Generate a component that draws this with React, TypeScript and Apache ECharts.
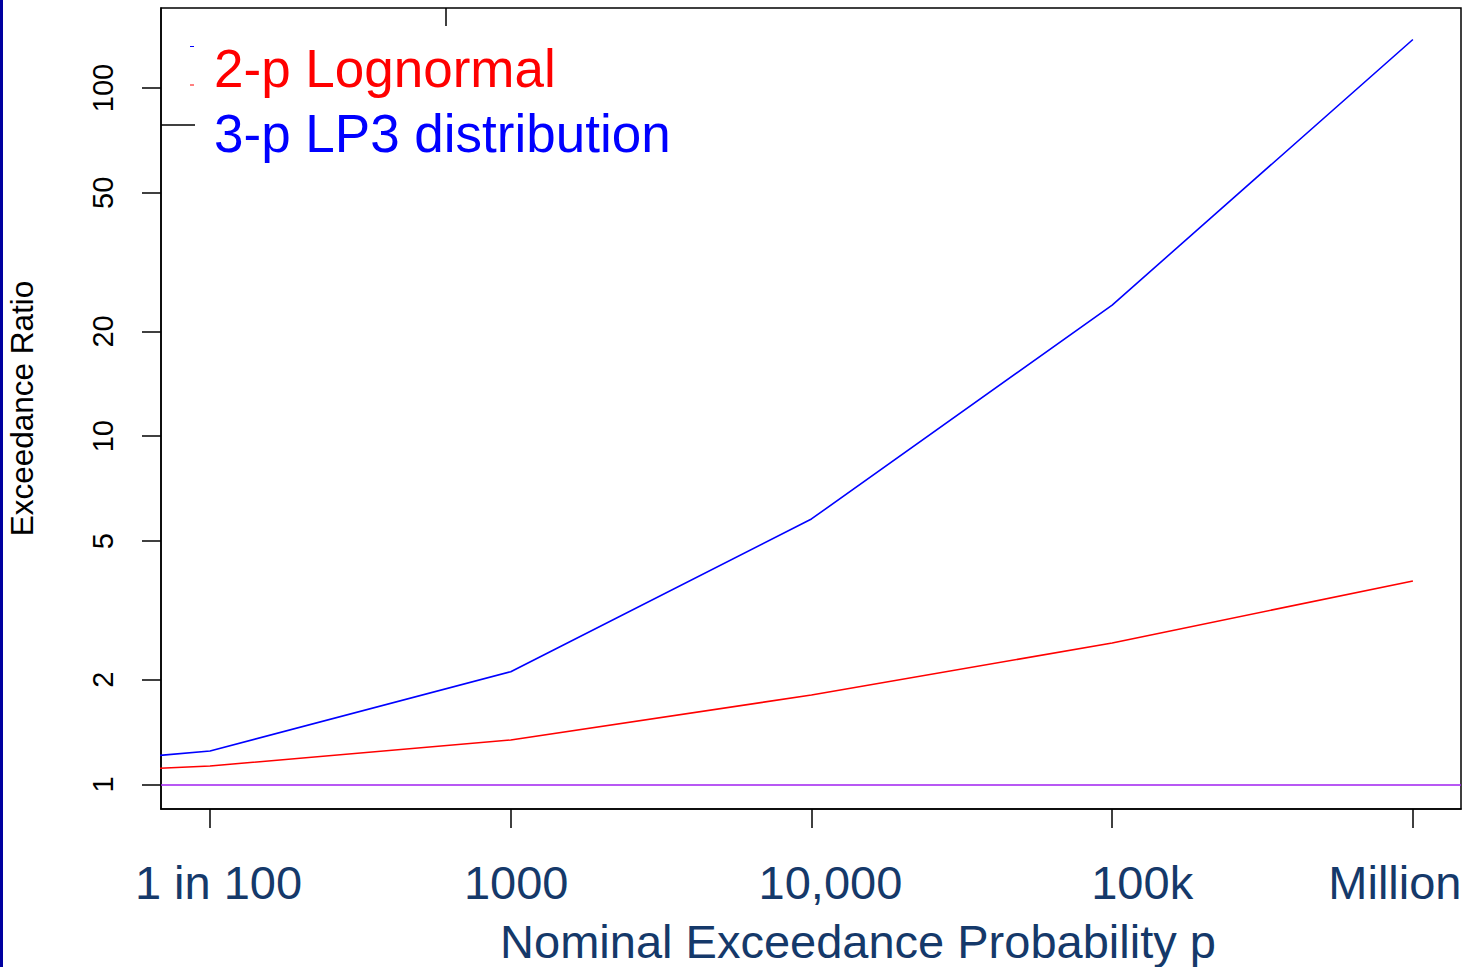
import React, { useEffect, useRef } from 'react';
import * as echarts from 'echarts';

// Return periods (1 in N) and exceedance ratios
const returnPeriods = [50, 100, 1000, 10000, 100000, 1000000];
const lognormalRatio = [1.099, 1.13, 1.342, 1.807, 2.549, 3.84];
const lp3Ratio = [1.184, 1.248, 2.108, 5.787, 23.8, 137.8];
const xTickValues = [100, 1000, 10000, 100000, 1000000];
const xTickLabels = ['1 in 100', '1000', '10,000', '100k', 'Million'];
const yTickValues = [1, 2, 5, 10, 20, 50, 100];
const seriesNames = ['2-p Lognormal', '3-p LP3 distribution'];
const referenceRatio = 1;

const NAVY = '#15396A';
const FONT = '"Liberation Sans", Arial, sans-serif';

export default function App() {
  const ref = useRef<HTMLDivElement>(null);

  useEffect(() => {
    const chart = echarts.init(ref.current!, null, { renderer: 'svg' });
    const lg = Math.log10;
    const xLabelShift = [8.5, 5.5, 19, 30, -18];
    const rich: any = {};
    xLabelShift.forEach((s, i) => {
      rich['t' + i] = {
        fontSize: 47,
        color: NAVY,
        fontFamily: FONT,
        padding: s >= 0 ? [0, 0, 0, 2 * s] : [0, -2 * s, 0, 0],
      };
    });

    const option: any = {
      animation: false,
      backgroundColor: '#fff',
      grid: {
        left: 161,
        right: 5,
        top: 8,
        bottom: 158,
        show: true,
        borderColor: '#000',
        borderWidth: 1.5,
        backgroundColor: 'transparent',
        containLabel: false,
        outerBoundsMode: 'none',
      },
      legend: {
        orient: 'vertical',
        left: 204,
        top: 37,
        icon: 'none',
        itemWidth: 0,
        itemHeight: 0,
        itemGap: 12,
        selectedMode: false,
        textStyle: { fontSize: 53, fontFamily: FONT },
        data: [
          { name: seriesNames[0], textStyle: { color: '#FF0000', fontSize: 53, fontFamily: FONT } },
          { name: seriesNames[1], textStyle: { color: '#0000FF', fontSize: 53, fontFamily: FONT } },
        ],
      },
      xAxis: {
        type: 'value',
        min: 1.837,
        max: 6.16,
        splitLine: { show: false },
        axisLine: { show: true, onZero: false, lineStyle: { color: '#000', width: 1.5 } },
        axisTick: {
          show: true,
          length: 19,
          customValues: xTickValues.map(lg),
          lineStyle: { color: '#000', width: 1.5 },
        },
        axisLabel: {
          customValues: xTickValues.map(lg),
          margin: 50,
          fontSize: 47,
          color: NAVY,
          fontFamily: FONT,
          rich,
          formatter: (v: number) => {
            const i = xTickValues.findIndex((t) => Math.abs(lg(t) - v) < 1e-6);
            return i < 0 ? '' : `{t${i}|${xTickLabels[i]}}`;
          },
        },
        name: 'Nominal Exceedance Probability p',
        nameLocation: 'middle',
        nameGap: 109,
        nameTextStyle: { fontSize: 47, color: NAVY, fontFamily: FONT, padding: [0, 0, 0, 94] },
      },
      yAxis: {
        type: 'value',
        min: -0.0704,
        max: 2.2297,
        splitLine: { show: false },
        axisLine: { show: true, onZero: false, lineStyle: { color: '#000', width: 1.5 } },
        axisTick: {
          show: true,
          length: 19,
          customValues: yTickValues.map(lg),
          lineStyle: { color: '#000', width: 1.5 },
        },
        axisLabel: {
          customValues: yTickValues.map(lg),
          rotate: 90,
          margin: 44,
          fontSize: 29,
          color: '#000',
          fontFamily: FONT,
          formatter: (v: number) => String(Math.round(Math.pow(10, v))),
        },
        name: 'Exceedance Ratio',
        nameLocation: 'middle',
        nameRotate: 90,
        nameGap: 123,
        nameTextStyle: { fontSize: 31.5, color: '#000', fontFamily: FONT },
      },
      series: [
        {
          name: seriesNames[0],
          type: 'line',
          clip: true,
          symbol: 'none',
          color: '#FF0000',
          lineStyle: { color: '#FF0000', width: 1.6 },
          data: returnPeriods.map((p, i) => [lg(p), lg(lognormalRatio[i])]),
          markLine: {
            silent: true,
            symbol: 'none',
            label: { show: false },
            lineStyle: { color: '#A020F0', width: 1.6, type: 'solid' },
            data: [{ yAxis: lg(referenceRatio) }],
          },
        },
        {
          name: seriesNames[1],
          type: 'line',
          clip: true,
          symbol: 'none',
          color: '#0000FF',
          lineStyle: { color: '#0000FF', width: 1.6 },
          data: returnPeriods.map((p, i) => [lg(p), lg(lp3Ratio[i])]),
        },
      ],
      graphic: [
        { type: 'rect', shape: { x: 0, y: 0, width: 3, height: 967 }, style: { fill: '#0000A0' } },
        { type: 'line', shape: { x1: 446, y1: 8, x2: 446, y2: 26 }, style: { stroke: '#000', lineWidth: 1.5 } },
        { type: 'line', shape: { x1: 161, y1: 125, x2: 195, y2: 125 }, style: { stroke: '#000', lineWidth: 1.5 } },
        { type: 'line', shape: { x1: 190, y1: 46.5, x2: 194, y2: 46.5 }, style: { stroke: '#0000FF', lineWidth: 1 } },
        { type: 'line', shape: { x1: 190, y1: 85, x2: 194, y2: 85 }, style: { stroke: '#FF0000', lineWidth: 1 } },
      ],
    };

    chart.setOption(option);
    return () => chart.dispose();
  }, []);

  return (
    <div
      ref={ref}
      style={{ position: 'fixed', left: 0, top: 0, width: 1466, height: 967, background: '#fff' }}
    />
  );
}
